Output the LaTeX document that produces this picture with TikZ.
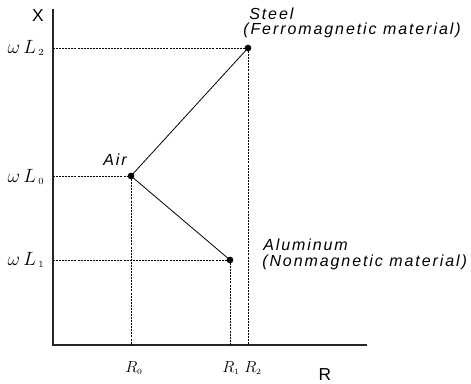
\documentclass[tikz,border=0pt]{standalone}
\usepackage{fontspec}
\setsansfont{Liberation Sans}[LetterSpace=12]
\usepackage{tikz}
\usetikzlibrary{positioning}

\newcommand{\matlbl}{\fontsize{12}{13}\selectfont\sffamily\itshape}
\newcommand{\axlbl}{\fontsize{13}{15}\selectfont\sffamily}
\newcommand{\omL}[1]{$\omega\,L_{\,\scriptscriptstyle #1}$}
\newcommand{\RR}[1]{$R_{\scriptscriptstyle #1}$}

\begin{document}
\begin{tikzpicture}[
    x=0.75pt, y=-0.75pt,
    axis/.style={line width=0.8pt, black!85},
    link/.style={line width=0.6pt},
    guide/.style={line width=0.5pt, dash pattern=on 1.5pt off 0.8pt},
    pt/.style={circle, fill, inner sep=0pt, minimum size=5pt},
    lbl/.style={inner sep=0pt, font=\matlbl, anchor=base west},
    tick/.style={inner sep=0pt, font=\fontsize{14}{16}\selectfont},
    rtick/.style={inner sep=0pt, font=\fontsize{13}{15}\selectfont}
  ]
    \useasboundingbox (0,0) rectangle (471,384);

    % axes
    \coordinate (o) at (53,345);
    \coordinate (ytop) at (53,9);
    \coordinate (xend) at (367,345);
    \draw[axis] (ytop) -- (o) -- (xend);
    \node (xlbl) [font=\axlbl, inner sep=0pt] at (38,16) {X};
    \node (rlbl) [font=\axlbl, inner sep=0pt] at (325,375) {R};

    % materials
    \node (steel) [pt] at (248,48) {};
    \node (air) [pt] at (131,176) {};
    \node (alu) [pt] at (230,260) {};

    \draw[link] (air.center) -- (steel.center);
    \draw[link] (air.center) -- (alu.center);

    % guide lines
    \foreach \p in {steel, air, alu} {
      \draw[guide] (o |- \p) -- (\p.center);
      \draw[guide] (\p.center) -- (\p |- o);
    }

    % labels
    \node (steel-lbl) [lbl] at (249,20) {Steel};
    \node (steel-note) [lbl] at (243,35) {(Ferromagnetic material)};
    \node (air-lbl) [lbl, anchor=base east] at (127,166) {Air};
    \node (alu-lbl) [lbl] at (263,251) {Aluminum};
    \node (alu-note) [lbl] at (262,267) {(Nonmagnetic material)};

    \node (l2) [tick] at (26,48) {\omL{2}};
    \node (l0) [tick] at (26,177) {\omL{0}};
    \node (l1) [tick] at (26,260) {\omL{1}};

    \node (r0) [rtick] at (134,368) {\RR{0}};
    \node (r1) [rtick] at (231,368) {\RR{1}};
    \node (r2) [rtick] at (253,368) {\RR{2}};
\end{tikzpicture}
\end{document}
